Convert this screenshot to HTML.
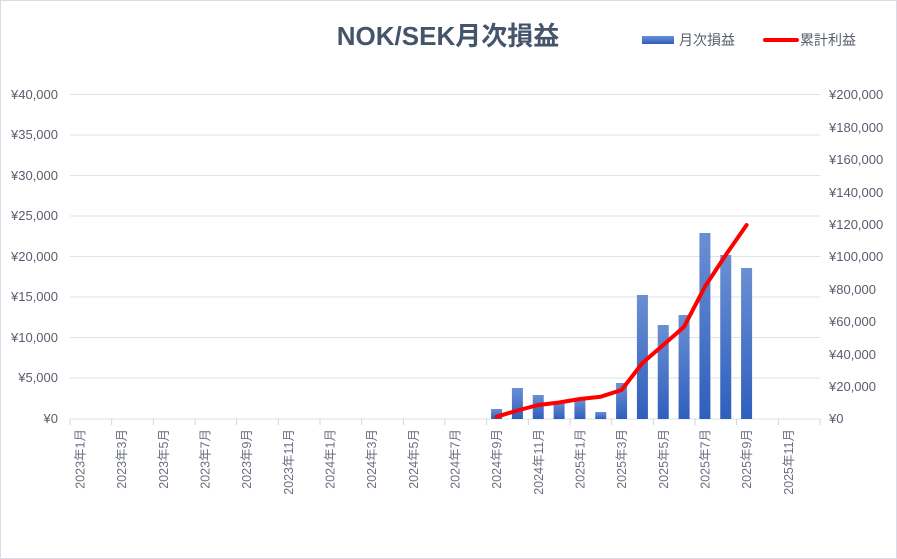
<!DOCTYPE html>
<html><head><meta charset="utf-8"><style>
body{margin:0;background:#fff}
svg{display:block;font-family:"Liberation Sans","Noto Sans CJK JP",sans-serif}
</style></head><body>
<svg width="897" height="559" viewBox="0 0 897 559">
<defs><linearGradient id="g" x1="0" y1="0" x2="0" y2="1"><stop offset="0" stop-color="#6a8fd3"/><stop offset="1" stop-color="#2f5fbd"/></linearGradient></defs>
<rect x="0.5" y="0.5" width="896" height="558" fill="#fff" stroke="#d9dce6"/>
<text x="448" y="45" text-anchor="middle" font-size="26" font-weight="bold" fill="#44546a">NOK/SEK月次損益</text>
<rect x="642" y="36" width="32" height="8" fill="url(#g)"/>
<text x="679" y="45" font-size="14" fill="#595e6e">月次損益</text>
<line x1="765" y1="40" x2="797" y2="40" stroke="#f00" stroke-width="4" stroke-linecap="round"/>
<text x="800" y="45" font-size="14" fill="#595e6e">累計利益</text>
<g stroke="#dfe2ea" stroke-width="1">
<line x1="70" y1="94.5" x2="820" y2="94.5"/><line x1="70" y1="135" x2="820" y2="135"/><line x1="70" y1="175.5" x2="820" y2="175.5"/><line x1="70" y1="216" x2="820" y2="216"/><line x1="70" y1="256.5" x2="820" y2="256.5"/><line x1="70" y1="297" x2="820" y2="297"/><line x1="70" y1="337.5" x2="820" y2="337.5"/><line x1="70" y1="378" x2="820" y2="378"/><line x1="70" y1="419" x2="820" y2="419"/>
</g>
<g id="ticks" stroke="#d0d4de"></g>
<g font-size="13" fill="#595e6e" text-anchor="end">
<text x="58" y="99">¥40,000</text><text x="58" y="139">¥35,000</text><text x="58" y="180">¥30,000</text><text x="58" y="220">¥25,000</text><text x="58" y="261">¥20,000</text><text x="58" y="301">¥15,000</text><text x="58" y="342">¥10,000</text><text x="58" y="382">¥5,000</text><text x="58" y="423">¥0</text>
</g>
<g font-size="13" fill="#595e6e" text-anchor="start">
<text x="829" y="99">¥200,000</text><text x="829" y="132">¥180,000</text><text x="829" y="164">¥160,000</text><text x="829" y="197">¥140,000</text><text x="829" y="229">¥120,000</text><text x="829" y="261">¥100,000</text><text x="829" y="294">¥80,000</text><text x="829" y="326">¥60,000</text><text x="829" y="359">¥40,000</text><text x="829" y="391">¥20,000</text><text x="829" y="423">¥0</text>
</g>
<g id="bars" fill="url(#g)"></g>
<g id="xl" font-size="12.5" fill="#6b7080"></g>
<polyline id="ln" fill="none" stroke="#f00" stroke-width="4" stroke-linejoin="round" stroke-linecap="round"/>
</svg>
<script>
var NS="http://www.w3.org/2000/svg",w=750/36;
function el(p,t,a,txt){var e=document.createElementNS(NS,t);for(var k in a)e.setAttribute(k,a[k]);if(txt)e.textContent=txt;document.getElementById(p).appendChild(e);}
for(var k=0;k<=18;k++){var x=70+2*w*k;el("ticks","line",{x1:x,y1:419,x2:x,y2:425});}
var labs=["2023年1月","2023年3月","2023年5月","2023年7月","2023年9月","2023年11月","2024年1月","2024年3月","2024年5月","2024年7月","2024年9月","2024年11月","2025年1月","2025年3月","2025年5月","2025年7月","2025年9月","2025年11月"];
labs.forEach(function(s,i){var x=70+w*(2*i+0.5)+4;el("xl","text",{x:x,y:429,"text-anchor":"end",transform:"rotate(-90 "+x+" 429)"},s);});
var tops=[409,388,395,401.5,400,412,383,295,325,315,233,255,268];
var ly=[416.7,410.5,405,402.5,399,396.7,390,363,345,326.7,286.7,255,225];
var pts=[];
tops.forEach(function(t,j){var c=69.5+w*(20+j+0.5);el("bars","rect",{x:c-5.5,y:t,width:11,height:419-t});pts.push(c+","+ly[j]);});
document.getElementById("ln").setAttribute("points",pts.join(" "));
</script>
</body></html>
